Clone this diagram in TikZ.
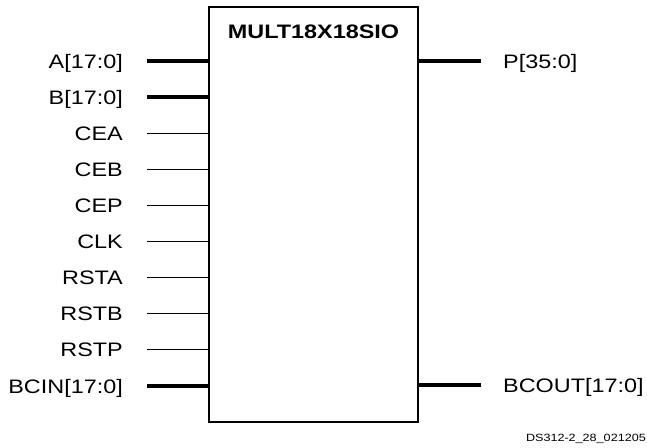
\documentclass[tikz,border=0pt]{standalone}
\usepackage{fontspec}
\setmainfont{Liberation Sans}[FakeStretch=1.2]
\begin{document}
\begin{tikzpicture}[x=1pt,y=-1pt,
  lbl/.style={inner sep=0pt,font=\fontsize{19.5}{20}\selectfont},
  bus/.style={line width=3.4pt},
  wire/.style={line width=1pt},
  blk/.style={draw,line width=2pt,minimum width=209pt,minimum height=415pt,inner sep=0pt}]
\useasboundingbox (0,0) rectangle (647,447);
\node[blk] (box) at (313.5,214.5) {};
\node[lbl,anchor=base,font=\fontsize{19.5}{20}\selectfont\bfseries] (title) at (313.5,38) {MULT18X18SIO};
\foreach \n/\t/\y/\s in {a/A[17:0]/61/bus, b/B[17:0]/97.1/bus, cea/CEA/133.2/wire, ceb/CEB/169.3/wire,
  cep/CEP/205.4/wire, clk/CLK/241.6/wire, rsta/RSTA/277.7/wire, rstb/RSTB/313.8/wire,
  rstp/RSTP/349.9/wire, bcin/BCIN[17:0]/386/bus}{
  \node[lbl,anchor=base east] (l\n) at (123,\y+7) {\t};
  \coordinate (p\n) at (147,\y);
  \draw[\s] (p\n) -- (p\n -| box.west);
}
\node[lbl,anchor=base west] (lp) at (503,68) {P[35:0]};
\coordinate (pp) at (481,61);
\draw[bus] (pp) -- (pp -| box.east);
\node[lbl,anchor=base west] (lbcout) at (503,392) {BCOUT[17:0]};
\coordinate (pbcout) at (481,385);
\draw[bus] (pbcout) -- (pbcout -| box.east);
\node[lbl,anchor=base east,font=\fontsize{10.5}{11}\selectfont] (foot) at (646,441) {DS312-2\_28\_021205};
\end{tikzpicture}
\end{document}
